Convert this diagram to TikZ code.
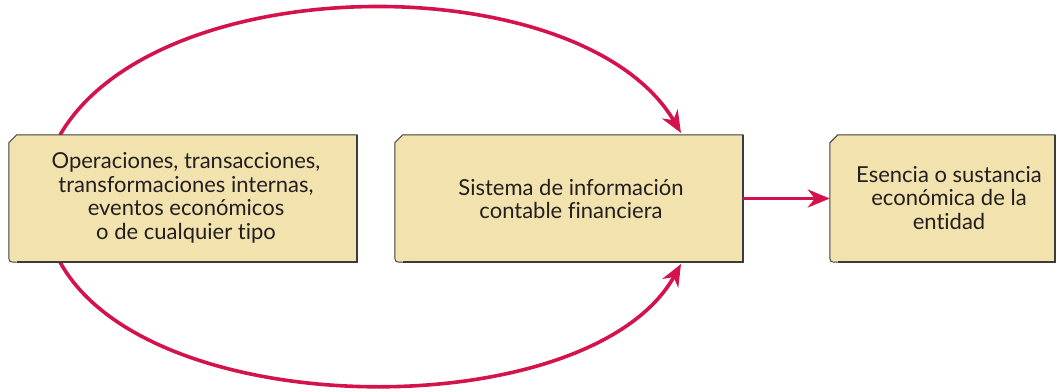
\documentclass[tikz,border=0pt]{standalone}
\usepackage{fontspec}
\setmainfont[Ligatures=NoCommon]{Lato}
\usetikzlibrary{arrows.meta,calc}
\definecolor{boxfill}{HTML}{F1E2AE}
\definecolor{boxedge}{HTML}{3C3C3C}
\definecolor{arrowred}{HTML}{D4134C}
\definecolor{txt}{HTML}{231F20}
\tikzset{
  boxnode/.style={rectangle, draw=none, inner sep=0pt, minimum height=127pt, align=center,
    font=\fontsize{22}{23.5}\selectfont, text=txt},
  flow/.style={draw=arrowred, line width=3.6pt, -{Stealth[length=22pt,width=18pt,inset=7pt]}},
}
\newcommand\drawbox[1]{%
  \path[fill=boxfill, draw=boxedge, line width=0.9pt]
    ([xshift=8pt]#1.north west) -- (#1.north east) -- (#1.south east)
    -- ([xshift=8pt]#1.south west) .. controls (#1.south west) .. ([yshift=8pt]#1.south west)
    -- ([yshift=-8pt]#1.north west) -- cycle;
  \draw[boxedge, line width=1.8pt] (#1.north east) -- (#1.south east) -- ([xshift=8pt]#1.south west);
}
\begin{document}
\begin{tikzpicture}[x=1pt,y=-1pt]
\useasboundingbox (0,0) rectangle (1057,391);
% box nodes (text placed later on top)
\node[boxnode, minimum width=348pt] (b1) at (183,198.5) {};
\node[boxnode, minimum width=348pt] (b2) at (569,198.5) {};
\node[boxnode, minimum width=225pt] (b3) at (942.5,198.5) {};
\coordinate (s1) at (60,135);
\coordinate (e1) at (681,133);
\coordinate (s2) at (60,262);
\coordinate (e2) at (681,264);
% arcs
\draw[flow] (s1) .. controls (158,-34) and (583,-34) .. (e1);
\draw[flow] (s2) .. controls (150,426) and (591,426) .. (e2);
% boxes
\drawbox{b1}
\drawbox{b2}
\drawbox{b3}
\node[boxnode, minimum height=0pt] (t1) at (186,198) {Operaciones, transacciones,\\transformaciones internas,\\eventos económicos\\o de cualquier tipo};
\node[boxnode, minimum height=0pt] (t2) at (571,199) {Sistema de información\\contable financiera};
\node[boxnode, minimum height=0pt] (t3) at (949,198) {Esencia o sustancia\\económica de la\\entidad};
\draw[flow] (b2.east) -- (b3.west);
\end{tikzpicture}
\end{document}
